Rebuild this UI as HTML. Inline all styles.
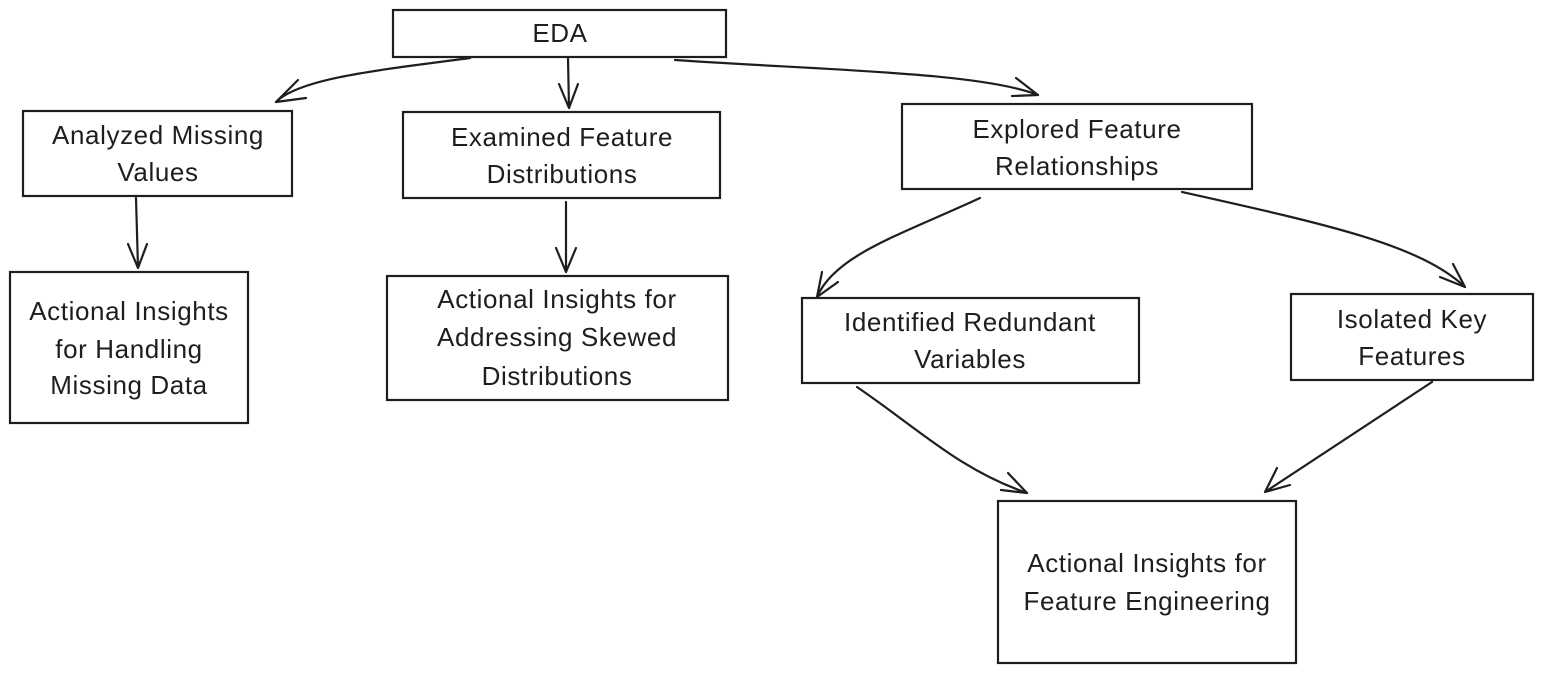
<!DOCTYPE html>
<html><head><meta charset="utf-8"><style>
html,body{margin:0;padding:0;background:#fff}
svg{display:block}
text{font-family:"Liberation Sans",sans-serif;font-size:26px;letter-spacing:0.6px;fill:#1e1e1e;text-anchor:middle;dominant-baseline:middle}
rect{fill:none;stroke:#1e1e1e;stroke-width:2.2}
path{fill:none;stroke:#1e1e1e;stroke-width:2.2;stroke-linecap:round;stroke-linejoin:round}
</style></head><body>
<svg width="1542" height="673" viewBox="0 0 1542 673" xmlns="http://www.w3.org/2000/svg">
<rect x="393" y="10" width="333" height="47"/>
<text x="560" y="35">EDA</text>
<rect x="23" y="111" width="269" height="85"/>
<text x="158" y="137">Analyzed Missing</text><text x="158" y="174">Values</text>
<rect x="403" y="112" width="317" height="86"/>
<text x="562" y="139">Examined Feature</text><text x="562" y="176">Distributions</text>
<rect x="902" y="104" width="350" height="85"/>
<text x="1077" y="131">Explored Feature</text><text x="1077" y="168">Relationships</text>
<rect x="10" y="272" width="238" height="151"/>
<text x="129" y="313">Actional Insights</text><text x="129" y="351">for Handling</text><text x="129" y="387">Missing Data</text>
<rect x="387" y="276" width="341" height="124"/>
<text x="557" y="301">Actional Insights for</text><text x="557" y="339">Addressing Skewed</text><text x="557" y="378">Distributions</text>
<rect x="802" y="298" width="337" height="85"/>
<text x="970" y="324">Identified Redundant</text><text x="970" y="361">Variables</text>
<rect x="1291" y="294" width="242" height="86"/>
<text x="1412" y="321">Isolated Key</text><text x="1412" y="358">Features</text>
<rect x="998" y="501" width="298" height="162"/>
<text x="1147" y="565">Actional Insights for</text><text x="1147" y="603">Feature Engineering</text>

<path d="M470 58 C380 70 300 78 276 102" stroke-width="3"/>
<path d="M276 102 L298 80 M276 102 L306 98"/>
<path d="M568 58 L569 108 M569 108 L559 84 M569 108 L578 84"/>
<path d="M675 60 C820 70 980 72 1038 95" stroke-width="3"/>
<path d="M1038 95 L1016 78 M1038 95 L1012 96"/>
<path d="M136 198 L138 268 M138 268 L128 244 M138 268 L147 244" stroke-width="2.6"/>
<path d="M566 202 L566 272 M566 272 L556 248 M566 272 L576 248" stroke-width="2.6"/>
<path d="M980 198 C900 235 835 255 817 297" stroke-width="3"/>
<path d="M817 297 L822 272 M817 297 L838 282"/>
<path d="M1182 192 C1330 225 1420 245 1465 287" stroke-width="2.6"/>
<path d="M1465 287 L1440 277 M1465 287 L1453 264"/>
<path d="M857 387 C920 430 960 470 1027 493" stroke-width="3"/>
<path d="M1027 493 L1001 490 M1027 493 L1008 473"/>
<path d="M1432 382 L1265 492 M1265 492 L1277 468 M1265 492 L1290 485" stroke-width="2.4"/>
</svg>
</body></html>
